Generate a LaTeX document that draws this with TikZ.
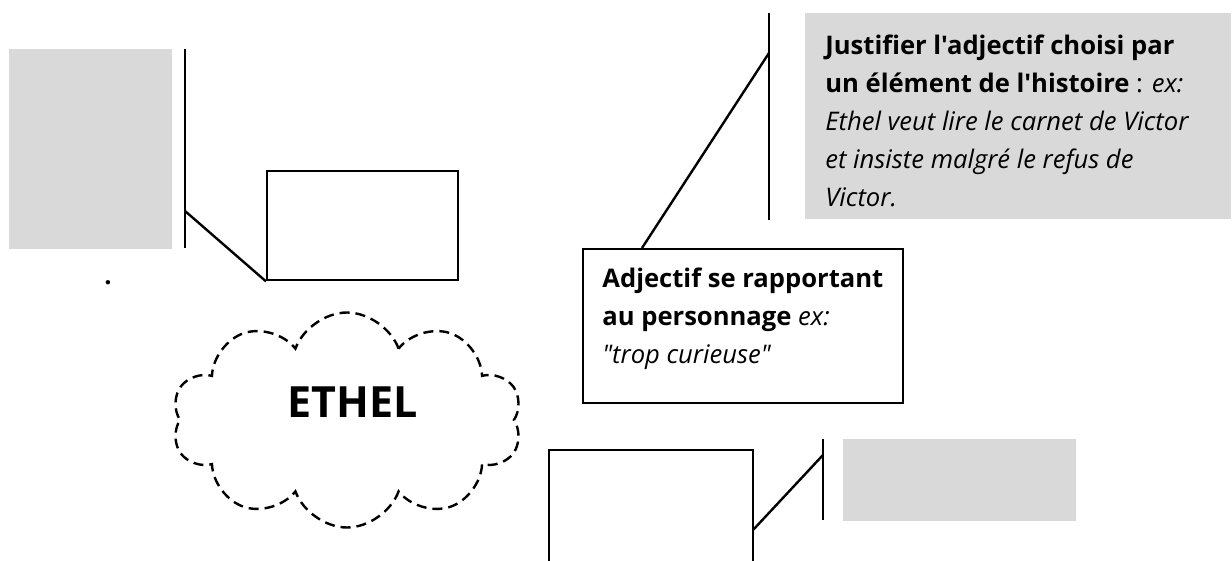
\documentclass[tikz,border=0pt]{standalone}
\usepackage{fontspec}
\setmainfont{Open Sans}[Ligatures=TeXOff]
\usepackage{tikz}
\usetikzlibrary{shapes.symbols,positioning}
\definecolor{boxgray}{RGB}{217,217,217}

\begin{document}
\begin{tikzpicture}[
		x=0.5pt, y=-0.5pt,
		font=\fontsize{12.8}{19}\selectfont,
		graybox/.style={fill=boxgray, draw=none, inner sep=0, anchor=north west},
		framebox/.style={draw, line width=1.2pt, inner sep=0, anchor=north west},
		stem/.style={line width=1.4pt},
		link/.style={line width=1.2pt},
		textblock/.style={inner sep=0, anchor=north west, align=left}
		]
		% Page
		\clip (0,0) rectangle (1232,561);
		
		% Left group
		\node[graybox, minimum width=81.5pt, minimum height=100pt] (leftgray) at (9,49) {};
		\node[framebox, minimum width=95.5pt, minimum height=54.5pt] (leftframe) at (266,170) {};
		\draw
		(185,49) coordinate (lstemtop)
		(185,248) coordinate (lstembot)
		(185,211) coordinate (ljoin);
		\draw[stem] (lstemtop) -- (lstembot);
		\draw[link] (ljoin) -- (leftframe.south west);
		\node[inner sep=0, anchor=base] (dot) at (108,285) {\textbf{.}};
		
		% Cloud
		\node[cloud, draw, line width=1.2pt, dash pattern=on 5pt off 3pt,
			cloud puffs=10, cloud puff arc=140, aspect=1.6, inner sep=0,
			minimum width=175pt, minimum height=107.5pt] (cloud) at (347,420) {};
		\node[font=\fontsize{21.5}{24}\selectfont\bfseries] (ethel) at (353,402) {ETHEL};
		
		% Middle group
		\node[framebox, minimum width=160pt, minimum height=77pt] (adjbox) at (582,248) {};
		\node[textblock] (adjtext) at (602,267.5)
			{\textbf{Adjectif se rapportant}\\
			 \textbf{au personnage} \textit{ex:}\\
			 \textit{"trop curieuse"}};
		\draw
		(769,13) coordinate (rstemtop)
		(769,220) coordinate (rstembot)
		(769,53) coordinate (rjoin)
		(642,248) coordinate (adjtip);
		\draw[stem] (rstemtop) -- (rstembot);
		\draw[link] (rjoin) -- (adjtip);
		\node[graybox, minimum width=213pt, minimum height=103pt] (rightgray) at (805,13) {};
		\node[textblock] (righttext) at (825,34.5)
			{\textbf{Justifier l'adjectif choisi par}\\
			 \textbf{un élément de l'histoire} : \textit{ex:}\\
			 \textit{Ethel veut lire le carnet de Victor}\\
			 \textit{et insiste malgré le refus de}\\
			 \textit{Victor.}};
		
		% Bottom group
		\node[framebox, line width=1pt, minimum width=102pt, minimum height=75pt] (botframe) at (548,449) {};
		\draw
		(823,439) coordinate (bstemtop)
		(823,520) coordinate (bstembot)
		(823,455) coordinate (bjoin)
		(753,530) coordinate (btip);
		\draw[stem] (bstemtop) -- (bstembot);
		\draw[link] (btip) -- (bjoin);
		\node[graybox, minimum width=116.5pt, minimum height=41pt] (botgray) at (843,439) {};
		\end{tikzpicture}
\end{document}
